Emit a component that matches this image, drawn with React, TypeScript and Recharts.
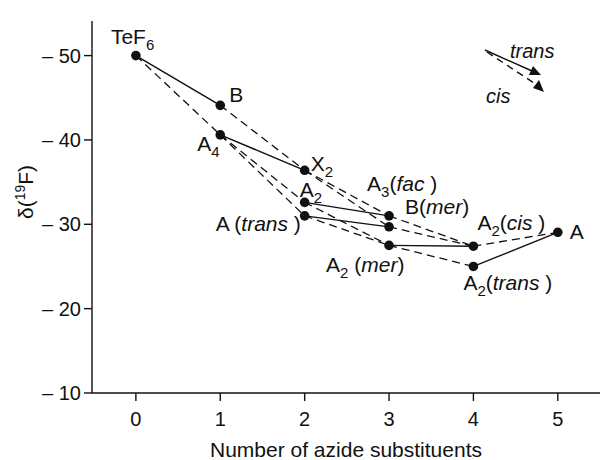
import React from "react";
import { ScatterChart, Scatter, XAxis, YAxis, Customized } from "recharts";

// signals: number of azide groups vs 19F shift
const names = ["TeF6", "B", "A4", "X2", "A2", "Atrans", "A3fac", "Bmer", "A2mer", "A2cis", "A2trans", "A5"];
const azide = [0, 1, 1, 2, 2, 2, 3, 3, 3, 4, 4, 5];
const shift = [-50, -44.1, -40.6, -36.4, -32.6, -31.0, -31.0, -29.7, -27.5, -27.4, -25.0, -29.05];

// trans substitution (solid) and cis substitution (dashed)
const solidLinks: [string, string][] = [
  ["TeF6", "B"],
  ["A4", "X2"],
  ["A2", "A3fac"],
  ["Atrans", "Bmer"],
  ["A2mer", "A2cis"],
  ["A2trans", "A5"],
];
const dashedLinks: [string, string][] = [
  ["TeF6", "A4"],
  ["B", "X2"],
  ["A4", "A2"],
  ["A4", "Atrans"],
  ["X2", "Bmer"],
  ["X2", "A3fac"],
  ["A2", "A2mer"],
  ["Atrans", "A2mer"],
  ["A3fac", "A2cis"],
  ["Bmer", "A2cis"],
  ["A2mer", "A2trans"],
  ["A2cis", "A5"],
];

const xTicks = [0, 1, 2, 3, 4, 5];
const yTicks = [-50, -40, -30, -20, -10];

type Part = { t: string; sub?: boolean; it?: boolean };
const labelText: Record<string, Part[]> = {
  TeF6: [{ t: "TeF" }, { t: "6", sub: true }],
  B: [{ t: "B" }],
  A4: [{ t: "A" }, { t: "4", sub: true }],
  X2: [{ t: "X" }, { t: "2", sub: true }],
  A2: [{ t: "A" }, { t: "2", sub: true }],
  Atrans: [{ t: "A (" }, { t: "trans", it: true }, { t: " )" }],
  A3fac: [{ t: "A" }, { t: "3", sub: true }, { t: "(" }, { t: "fac", it: true }, { t: " )" }],
  Bmer: [{ t: "B(" }, { t: "mer", it: true }, { t: ")" }],
  A2mer: [{ t: "A" }, { t: "2", sub: true }, { t: " (" }, { t: "mer", it: true }, { t: ")" }],
  A2cis: [{ t: "A" }, { t: "2", sub: true }, { t: "(" }, { t: "cis", it: true }, { t: " )" }],
  A2trans: [{ t: "A" }, { t: "2", sub: true }, { t: "(" }, { t: "trans", it: true }, { t: " )" }],
  A5: [{ t: "A" }],
};

// label offset from its point (px)
const labelPos: Record<string, [number, number]> = {
  TeF6: [-25, -12],
  B: [9, -3],
  A4: [-23, 16],
  X2: [6, 1],
  A2: [-5, -5],
  Atrans: [-89, 15],
  A3fac: [-22, -25],
  Bmer: [16, -13],
  A2mer: [-63, 27],
  A2cis: [4, -16],
  A2trans: [-10, 24],
  A5: [12, 7],
};

const FONT = "'Liberation Sans', Arial, Helvetica, sans-serif";
const INK = "#111";

const points = names.map((n, i) => ({ name: n, x: azide[i], y: shift[i] }));
const pt = (n: string) => points.find((p) => p.name === n)!;

const renderParts = (parts: Part[]) => {
  const out: React.ReactNode[] = [];
  let shifted = false;
  parts.forEach((p, i) => {
    let dy = 0;
    if (p.sub && !shifted) {
      dy = 6;
      shifted = true;
    } else if (!p.sub && shifted) {
      dy = -6;
      shifted = false;
    }
    out.push(
      <tspan
        key={i}
        dy={dy}
        fontSize={p.sub ? 15 : undefined}
        fontStyle={p.it ? "italic" : undefined}
      >
        {p.t}
      </tspan>
    );
  });
  return out;
};

const PointShape = (props: any) => {
  const { cx, cy, payload } = props;
  const [dx, dy] = labelPos[payload.name];
  return (
    <g>
      <circle cx={cx} cy={cy} r={4.8} fill={INK} />
      <text
        x={cx + dx}
        y={cy + dy}
        fontSize={21}
        fontFamily={FONT}
        fill={INK}
        style={{ whiteSpace: "pre" }}
      >
        {renderParts(labelText[payload.name])}
      </text>
    </g>
  );
};

const Annotations = () => (
  <g fontFamily={FONT} fill={INK}>
    <text
      transform="rotate(-90, 33, 192)"
      x={33}
      y={192}
      textAnchor="middle"
      fontSize={21}
    >
      <tspan>δ(</tspan>
      <tspan dy={-8} fontSize={14}>19</tspan>
      <tspan dy={8}>F)</tspan>
    </text>
    {/* key */}
    <line x1={485} y1={50} x2={532} y2={71} stroke={INK} strokeWidth={1.4} />
    <polygon points="541,75 529,75 533,66" fill={INK} />
    <line x1={487} y1={52} x2={537} y2={85} stroke={INK} strokeWidth={1.4} strokeDasharray="7 5" />
    <polygon points="544,92 533,88 539,80" fill={INK} />
    <text x={510} y={58} fontSize={20} fontStyle="italic">trans</text>
    <text x={486} y={103} fontSize={20} fontStyle="italic">cis</text>
  </g>
);

const App: React.FC = () => {
  return (
    <div style={{ position: "absolute", left: 0, top: 0, background: "#fff" }}>
      <ScatterChart width={600} height={460} margin={{ top: 21, right: 0, bottom: 0, left: 0 }}>
        <XAxis
          type="number"
          dataKey="x"
          domain={[-0.52, 5.5]}
          ticks={xTicks}
          allowDataOverflow
          height={67}
          tickSize={8}
          tickMargin={11}
          axisLine={{ stroke: INK, strokeWidth: 1.4 }}
          tickLine={{ stroke: INK, strokeWidth: 1.4 }}
          tick={{ fill: INK, fontSize: 20, fontFamily: FONT }}
          label={{
            value: "Number of azide substituents",
            position: "insideBottom",
            offset: 3,
            fill: INK,
            fontSize: 21,
            fontFamily: FONT,
          }}
        />
        <YAxis
          type="number"
          dataKey="y"
          domain={[-54.1, -10]}
          reversed
          ticks={yTicks}
          allowDataOverflow
          width={92}
          tickSize={8}
          tickMargin={3}
          axisLine={{ stroke: INK, strokeWidth: 1.4 }}
          tickLine={{ stroke: INK, strokeWidth: 1.4 }}
          tick={{ fill: INK, fontSize: 20, fontFamily: FONT }}
          tickFormatter={(v: number) => `– ${Math.abs(v)}`}
        />
        {solidLinks.map(([a, b], i) => (
          <Scatter
            key={`s${i}`}
            data={[pt(a), pt(b)]}
            line={{ stroke: INK, strokeWidth: 1.4 }}
            shape={() => <g />}
            isAnimationActive={false}
          />
        ))}
        {dashedLinks.map(([a, b], i) => (
          <Scatter
            key={`d${i}`}
            data={[pt(a), pt(b)]}
            line={{ stroke: INK, strokeWidth: 1.3, strokeDasharray: "8 5" }}
            shape={() => <g />}
            isAnimationActive={false}
          />
        ))}
        <Scatter data={points} shape={PointShape} isAnimationActive={false} />
        <Customized component={Annotations} />
      </ScatterChart>
    </div>
  );
};

export default App;
